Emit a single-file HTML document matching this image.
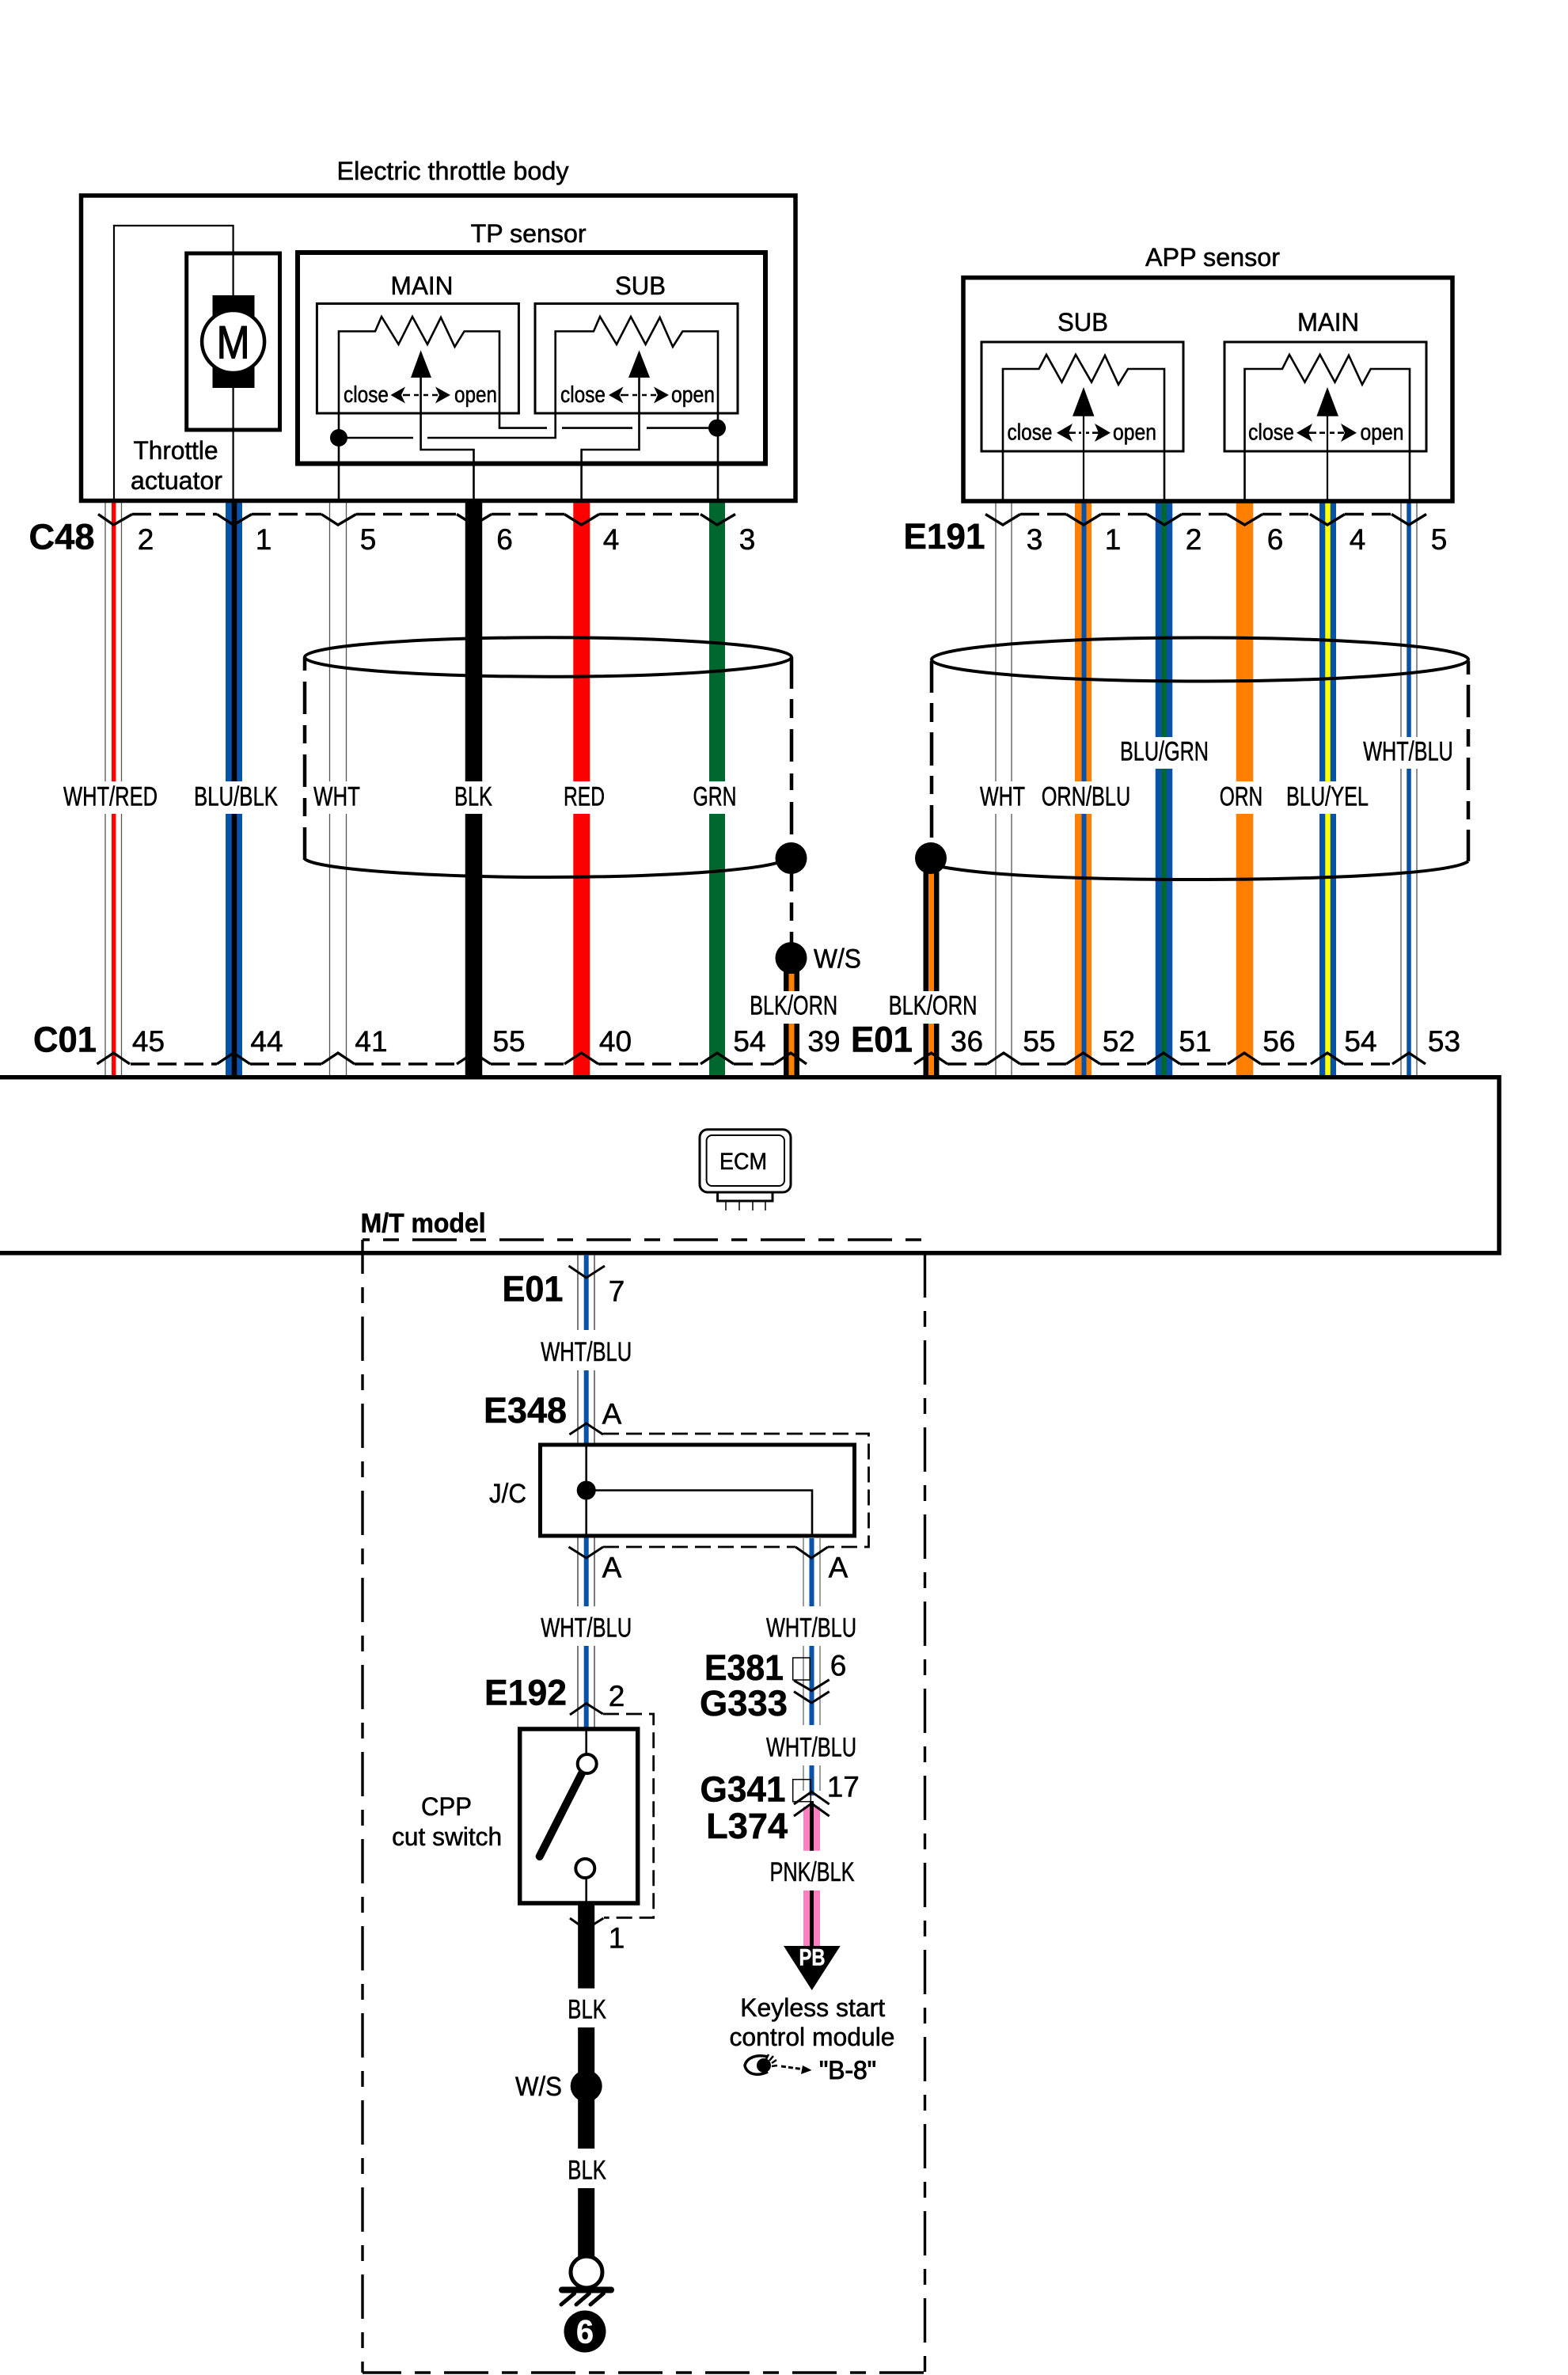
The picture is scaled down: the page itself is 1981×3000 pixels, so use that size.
<!DOCTYPE html>
<html><head><meta charset="utf-8"><title>Wiring diagram</title>
<style>
html,body{margin:0;padding:0;background:#fff}
svg{display:block}
text{font-family:"Liberation Sans",sans-serif;text-anchor:middle;dominant-baseline:central;fill:#000;stroke:#000;stroke-width:.55px}
.b{font-weight:bold}
.n{font-size:37px}
.c{font-size:45px;font-weight:bold}
.w{font-size:34px}
.s{font-size:32px}
.t{font-size:29px}
path,line,rect,circle,ellipse,polygon{fill:none;stroke:#000}
.f{fill:#000;stroke:none}
</style></head><body>
<svg xmlns="http://www.w3.org/2000/svg" width="1981" height="3000" viewBox="0 0 1981 3000">
<rect x="0" y="0" width="1981" height="3000" style="fill:#fff;stroke:none"/>

<!-- sheath lines -->
<path stroke-width="1.3" style="stroke:#555" d="M133 632V987M133 1028V1358M153.5 632V987M153.5 1028V1358M416.5 632V987M416.5 1028V1358M437.5 632V987M437.5 1028V1358M1258 632V987M1258 1028V1358M1278 632V987M1278 1028V1358M1770 632V931M1770 971V1358M1790 632V931M1790 971V1358"/>
<!-- colored wires -->
<path style="stroke:#f00" stroke-width="5.5" d="M143.7 632V987M143.7 1028V1358"/>
<path style="stroke:#0852a8" stroke-width="21" d="M295.5 632V987M295.5 1028V1358"/>
<path style="stroke:#000" stroke-width="6.5" d="M296 632V987M296 1028V1358"/>
<path style="stroke:#000" stroke-width="21.5" d="M598.5 632V987M598.5 1028V1358"/>
<path style="stroke:#f00" stroke-width="21" d="M734.8 632V987M734.8 1028V1358"/>
<path style="stroke:#00672e" stroke-width="20" d="M906 632V987M906 1028V1358"/>
<path style="stroke:#000" stroke-width="20" d="M1000 1210V1252M1000 1293V1358M1176.5 1084V1252M1176.5 1293V1358"/>
<path style="stroke:#ff7f00" stroke-width="7" d="M1000 1230V1252M1000 1293V1358M1176.5 1100V1252M1176.5 1293V1358"/>
<path style="stroke:#ff7f00" stroke-width="21" d="M1368.5 632V987M1368.5 1028V1358"/>
<path style="stroke:#0852a8" stroke-width="6" d="M1369.5 632V987M1369.5 1028V1358"/>
<path style="stroke:#0852a8" stroke-width="21.5" d="M1470.5 632V931M1470.5 971V1358"/>
<path style="stroke:#00672e" stroke-width="6.5" d="M1470.5 632V931M1470.5 971V1358"/>
<path style="stroke:#ff7f00" stroke-width="21.5" d="M1572.5 632V987M1572.5 1028V1358"/>
<path style="stroke:#0852a8" stroke-width="21" d="M1677.5 632V987M1677.5 1028V1358"/>
<path style="stroke:#ff0" stroke-width="6.5" d="M1677.5 632V987M1677.5 1028V1358"/>
<path style="stroke:#0852a8" stroke-width="5.5" d="M1780 632V931M1780 971V1358"/>

<!-- shields -->
<ellipse cx="692.5" cy="830" rx="307.5" ry="24.7" stroke-width="4"/>
<path stroke-width="4" d="M385 1085C400 1098 540 1108 692 1108C830 1108 950 1100 985 1089"/>
<path stroke-width="4.5" d="M385 830V847M385 861V902M385 916V939M385 953V994M385 1008V1031M385 1045V1086"/>
<path stroke-width="4.5" d="M1000 830V870M1000 883V907M1000 921V962M1000 977V998M1000 1013V1054M1000 1084V1126M1000 1140V1163M1000 1177V1210"/>
<ellipse cx="1516" cy="833" rx="339" ry="27.5" stroke-width="4"/>
<path stroke-width="4" d="M1190 1095C1260 1108 1400 1111 1516 1111C1650 1111 1830 1105 1855 1088"/>
<path stroke-width="4.5" d="M1177 835V875M1177 888V912M1177 925V967M1177 980V1003M1177 1017V1058"/>
<path stroke-width="4.5" d="M1855 835V852M1855 865V906M1855 921V943M1855 957V998M1855 1012V1035M1855 1048V1088"/>
<circle class="f" cx="999.5" cy="1084" r="20"/>
<circle class="f" cx="999.5" cy="1210" r="20"/>
<circle class="f" cx="1176" cy="1084" r="20"/>

<!-- Electric throttle body -->
<text class="s" x="572" y="216" textLength="293" lengthAdjust="spacingAndGlyphs">Electric throttle body</text>
<rect x="102.5" y="247" width="902.5" height="385.5" stroke-width="5.5"/>
<path stroke-width="2.2" d="M144 632V285H294.6V632"/>
<rect x="235.7" y="320" width="117.8" height="223" stroke-width="5"/>
<rect class="f" x="268.5" y="373" width="53" height="117"/>
<circle cx="294.6" cy="431.5" r="39.5" stroke-width="4.5" style="fill:#fff"/>
<text x="294.6" y="433" font-size="58" textLength="42" lengthAdjust="spacingAndGlyphs" style="stroke-width:1.2px">M</text>
<text class="s" x="222" y="569" textLength="107" lengthAdjust="spacingAndGlyphs">Throttle</text>
<text class="s" x="223" y="607" textLength="116" lengthAdjust="spacingAndGlyphs">actuator</text>
<text class="s" x="667.6" y="295" textLength="146" lengthAdjust="spacingAndGlyphs">TP sensor</text>
<rect x="376" y="319" width="591" height="266.6" stroke-width="6"/>
<rect x="400.4" y="383.5" width="255" height="138.5" stroke-width="3"/>
<rect x="676" y="383.5" width="256" height="138.5" stroke-width="3"/>
<text class="s" x="533" y="361" textLength="79" lengthAdjust="spacingAndGlyphs">MAIN</text>
<text class="s" x="809" y="361" textLength="64" lengthAdjust="spacingAndGlyphs">SUB</text>
<path stroke-width="2.6" d="M428 632V418.5H474L482 400L503.5 435L521 400L540 435L557 401L574.5 438L586.6 418.5H631V540.6H691M710 540.6H799M817 540.6H906"/>
<path stroke-width="2.6" d="M428 553H522M540 553H701.7V418.5H750L758 400L779 435L797 400L815.6 435L833.6 401L850 438L862.4 418.5H907V632"/>
<path stroke-width="2.6" d="M531.6 470V568H598.5V632M807.5 470V568H734.6V632"/>
<circle class="f" cx="428" cy="553" r="11"/>
<circle class="f" cx="906" cy="540.6" r="11"/>
<polygon class="f" points="531.6,442.4 545,477 519,477"/>
<polygon class="f" points="807.5,442.4 821,477 794,477"/>
<text class="t" x="462.5" y="499" textLength="57" lengthAdjust="spacingAndGlyphs">close</text>
<text class="t" x="601" y="499" textLength="54" lengthAdjust="spacingAndGlyphs">open</text>
<text class="t" x="736.5" y="499" textLength="57" lengthAdjust="spacingAndGlyphs">close</text>
<text class="t" x="875.5" y="499" textLength="55" lengthAdjust="spacingAndGlyphs">open</text>
<polygon class="f" points="493.5,499 512,488.5 507,499 512,509.5"/>
<polygon class="f" points="569,499 550,488.5 555,499 550,509.5"/>
<polygon class="f" points="769,499 787.5,488.5 782.5,499 787.5,509.5"/>
<polygon class="f" points="845,499 826,488.5 831,499 826,509.5"/>
<path stroke-width="2.6" d="M509 499H518M523 499H529M535 499H541M546 499H553M784 499H794M799 499H805M811 499H817M822 499H829"/>

<!-- APP sensor -->
<text class="s" x="1532" y="325" textLength="170" lengthAdjust="spacingAndGlyphs">APP sensor</text>
<rect x="1217" y="350.7" width="618" height="282.3" stroke-width="5.5"/>
<rect x="1240" y="432" width="255" height="138" stroke-width="3"/>
<rect x="1547" y="432" width="255" height="138" stroke-width="3"/>
<text class="s" x="1368" y="407" textLength="64" lengthAdjust="spacingAndGlyphs">SUB</text>
<text class="s" x="1678" y="407" textLength="78" lengthAdjust="spacingAndGlyphs">MAIN</text>
<path stroke-width="2.6" d="M1267 632V466H1312.5L1322 448L1341.5 482.7L1359 448L1379 482.7L1396 449L1413 485.7L1425 466H1471V632"/>
<path stroke-width="2.6" d="M1572.5 632V466H1620L1629 448L1648.5 482.7L1667.6 448L1686.5 482.7L1704 449L1721 485.7L1731.7 466H1781V632"/>
<path stroke-width="2.2" d="M1369 520V632M1677 520V632"/>
<polygon class="f" points="1369,489 1382.5,525.7 1355,525.7"/>
<polygon class="f" points="1677,489 1691,525.7 1663.4,525.7"/>
<text class="t" x="1301" y="546.7" textLength="57" lengthAdjust="spacingAndGlyphs">close</text>
<text class="t" x="1433.5" y="546.7" textLength="55" lengthAdjust="spacingAndGlyphs">open</text>
<text class="t" x="1606" y="546.7" textLength="58" lengthAdjust="spacingAndGlyphs">close</text>
<text class="t" x="1746" y="546.7" textLength="55" lengthAdjust="spacingAndGlyphs">open</text>
<polygon class="f" points="1335,546.7 1355,535 1350,546.7 1355,558"/>
<polygon class="f" points="1403,546.7 1383,535 1388,546.7 1383,558"/>
<polygon class="f" points="1638,546.7 1658,535 1653,546.7 1658,558"/>
<polygon class="f" points="1714,546.7 1694,535 1699,546.7 1694,558"/>
<path stroke-width="2.6" d="M1350 546.7H1359M1363 546.7H1366M1372 546.7H1376M1380 546.7H1388M1653 546.7H1663M1667 546.7H1674M1680 546.7H1686M1690 546.7H1698"/>

<!-- C48 / E191 connectors -->
<g stroke-width="3.4">
<path d="M124 649.5L143.5 663L167 649.5M274 649.5L295 663L318 649.5M406 649.5L427 663L450 649.5M577 649.5L598.5 663L621 649.5M713 649.5L734.6 663L757 649.5M885 649.5L906 663L929 649.5"/>
<path d="M1245 649.5L1267 663L1289 649.5M1347 649.5L1369 663L1391 649.5M1449 649.5L1471 663L1493 649.5M1550 649.5L1572.5 663L1595 649.5M1655 649.5L1677 663L1699 649.5M1758 649.5L1780 663L1802 649.5"/>
<path stroke-dasharray="24 10" d="M167 649.5H274M318 649.5H406M450 649.5H577M621 649.5H713M757 649.5H885M1289 649.5H1347M1391 649.5H1449M1493 649.5H1550M1595 649.5H1655M1699 649.5H1758"/>
<path d="M122.5 1344L143.5 1330L164 1344M274 1344L295 1330L316 1344M406 1344L427 1330L448 1344M577 1344L598.5 1330L620 1344M713 1344L734.6 1330L756 1344M885 1344L906 1330L927 1344M978 1344L999 1330L1019 1344M1155 1344L1176.5 1330L1197 1344M1247 1344L1268 1330L1289 1344M1347 1344L1368.5 1330L1390 1344M1449 1344L1470 1330L1491 1344M1551 1344L1572 1330L1593 1344M1656 1344L1677 1330L1698 1344M1759 1344L1780 1330L1801 1344"/>
<path stroke-dasharray="24 10" d="M165 1344H274M316 1344H406M448 1344H577M620 1344H713M756 1344H885M927 1344H978M1197 1344H1247M1289 1344H1347M1390 1344H1449M1491 1344H1551M1593 1344H1656M1698 1344H1759"/>
</g>
<text class="c" x="78" y="678" textLength="83" lengthAdjust="spacingAndGlyphs">C48</text>
<text class="n" x="184" y="681.6">2</text><text class="n" x="333" y="681.6">1</text><text class="n" x="465" y="681.6">5</text><text class="n" x="637.5" y="681.6">6</text><text class="n" x="772" y="681.6">4</text><text class="n" x="944" y="681.6">3</text>
<text class="c" x="1193" y="677.7" textLength="103" lengthAdjust="spacingAndGlyphs">E191</text>
<text class="n" x="1307" y="681.6">3</text><text class="n" x="1406" y="681.6">1</text><text class="n" x="1508" y="681.6">2</text><text class="n" x="1611" y="681.6">6</text><text class="n" x="1715" y="681.6">4</text><text class="n" x="1818" y="681.6">5</text>

<!-- wire labels -->
<g>
<text class="w" x="139.5" y="1006.7" textLength="119" lengthAdjust="spacingAndGlyphs">WHT/RED</text>
<text class="w" x="298" y="1006.7" textLength="106" lengthAdjust="spacingAndGlyphs">BLU/BLK</text>
<text class="w" x="425.5" y="1006.7" textLength="58.7" lengthAdjust="spacingAndGlyphs">WHT</text>
<text class="w" x="598" y="1006.7" textLength="48" lengthAdjust="spacingAndGlyphs">BLK</text>
<text class="w" x="738" y="1006.7" textLength="52" lengthAdjust="spacingAndGlyphs">RED</text>
<text class="w" x="903" y="1006.7" textLength="55" lengthAdjust="spacingAndGlyphs">GRN</text>
<text class="w" x="1266.5" y="1006.7" textLength="57" lengthAdjust="spacingAndGlyphs">WHT</text>
<text class="w" x="1372" y="1006.7" textLength="112.5" lengthAdjust="spacingAndGlyphs">ORN/BLU</text>
<text class="w" x="1471" y="949.3" textLength="112" lengthAdjust="spacingAndGlyphs">BLU/GRN</text>
<text class="w" x="1568" y="1006.7" textLength="54.5" lengthAdjust="spacingAndGlyphs">ORN</text>
<text class="w" x="1677" y="1006.7" textLength="104" lengthAdjust="spacingAndGlyphs">BLU/YEL</text>
<text class="w" x="1779" y="949.3" textLength="113.6" lengthAdjust="spacingAndGlyphs">WHT/BLU</text>
<text class="w" x="1058" y="1211.7" textLength="60" lengthAdjust="spacingAndGlyphs">W/S</text>
<text class="w" x="1002.6" y="1270.7" textLength="111" lengthAdjust="spacingAndGlyphs">BLK/ORN</text>
<text class="w" x="1178.6" y="1270.7" textLength="112" lengthAdjust="spacingAndGlyphs">BLK/ORN</text>
</g>

<!-- C01 labels -->
<text class="c" x="82" y="1313" textLength="80" lengthAdjust="spacingAndGlyphs">C01</text>
<text class="n" x="187.5" y="1315.7">45</text><text class="n" x="337" y="1315.7">44</text><text class="n" x="469" y="1315.7">41</text><text class="n" x="643" y="1315.7">55</text><text class="n" x="777.5" y="1315.7">40</text><text class="n" x="947" y="1315.7">54</text><text class="n" x="1041" y="1315.7">39</text>
<text class="c" x="1114" y="1313" textLength="78" lengthAdjust="spacingAndGlyphs">E01</text>
<text class="n" x="1221.5" y="1315.7">36</text><text class="n" x="1313" y="1315.7">55</text><text class="n" x="1413.5" y="1315.7">52</text><text class="n" x="1510" y="1315.7">51</text><text class="n" x="1616" y="1315.7">56</text><text class="n" x="1719" y="1315.7">54</text><text class="n" x="1824.5" y="1315.7">53</text>

<!-- ECM -->
<path stroke-width="5.5" d="M-10 1360.7H1894V1582.7H-10"/>
<rect x="884" y="1426.7" width="115" height="79.3" rx="10" stroke-width="3"/>
<rect x="892.6" y="1434" width="98.4" height="64" rx="7" stroke-width="2"/>
<text x="939" y="1467.7" font-size="30" textLength="60" lengthAdjust="spacingAndGlyphs">ECM</text>
<path stroke-width="3" d="M906.6 1506V1517H976V1506"/>
<path stroke-width="1.5" d="M917 1517V1529M934 1517V1529M951 1517V1529M967 1517V1529"/>

<!-- M/T model box -->
<text class="b w" x="534.6" y="1545.7" textLength="158" lengthAdjust="spacingAndGlyphs">M/T model</text>
<path stroke-width="3.4" stroke-dasharray="56 17 20 17" stroke-dashoffset="47" d="M458 1566H1168"/>
<path stroke-width="3.4" stroke-dasharray="56 17 20 17" stroke-dashoffset="13" d="M458 1566V2997"/>
<path stroke-width="3.4" stroke-dasharray="56 17 20 17" stroke-dashoffset="0" d="M1168.5 1583V2997"/>
<path stroke-width="3.4" stroke-dasharray="56 17 20 17" stroke-dashoffset="7" d="M458 2997H1168.5"/>

<!-- lower left wire -->
<path stroke-width="1.3" style="stroke:#333" d="M730 1585V1680M730 1731V1825M751 1585V1680M751 1731V1825M730 1940V2029M730 2079V2184M751 1940V2029M751 2079V2184"/>
<path style="stroke:#0852a8" stroke-width="6" d="M740.7 1585V1680M740.7 1731V1825M740.7 1940V2029M740.7 2079V2184"/>
<path stroke-width="3" d="M718.5 1599L740.7 1614L764 1599M719.4 1812L740.7 1798L762 1812M718.5 1954L740.7 1968L762 1954"/>
<text class="c" x="673" y="1628" textLength="77" lengthAdjust="spacingAndGlyphs">E01</text>
<text class="n" x="779" y="1631">7</text>
<text class="w" x="740.7" y="1708" textLength="115" lengthAdjust="spacingAndGlyphs">WHT/BLU</text>
<text class="c" x="663.5" y="1781.7" textLength="105" lengthAdjust="spacingAndGlyphs">E348</text>
<text class="n" x="773" y="1786">A</text>
<path stroke-width="2.8" stroke-dasharray="20 9" d="M762 1811H1097.5V1954H1046"/>
<path stroke-width="2.8" stroke-dasharray="20 9" d="M762 1954H1005"/>
<rect x="682.5" y="1825" width="397" height="115" stroke-width="5"/>
<path stroke-width="2.6" d="M740.7 1825V1940M740.7 1882.5H1026V1940"/>
<circle class="f" cx="740.7" cy="1882.5" r="12"/>
<text class="w" x="641.5" y="1887" textLength="47" lengthAdjust="spacingAndGlyphs">J/C</text>
<text class="n" x="773" y="1980">A</text>
<text class="n" x="1059" y="1980">A</text>
<text class="w" x="740.7" y="2056.4" textLength="115" lengthAdjust="spacingAndGlyphs">WHT/BLU</text>

<!-- right branch -->
<path stroke-width="1.3" style="stroke:#666" d="M1015 1943V2029M1015 2079V2179M1036 1943V2029M1036 2079V2179M1015 2230V2262M1036 2230V2262"/>
<path style="stroke:#0852a8" stroke-width="6" d="M1025.5 1943V2029M1025.5 2079V2179M1025.5 2230V2268"/>
<path stroke-width="3" d="M1005 1954L1025 1968L1046 1954"/>
<text class="w" x="1025" y="2056.4" textLength="114" lengthAdjust="spacingAndGlyphs">WHT/BLU</text>
<rect x="1001.7" y="2094" width="21.5" height="28" stroke-width="1.5"/>
<path stroke-width="3" d="M1003 2122.7L1025.3 2135.7L1047.7 2121.7M1003 2136.7L1025.3 2151L1047.7 2136.7"/>
<text class="c" x="940" y="2106.7" textLength="100" lengthAdjust="spacingAndGlyphs">E381</text>
<text class="c" x="939.5" y="2151.7" textLength="111" lengthAdjust="spacingAndGlyphs">G333</text>
<text class="n" x="1059" y="2104">6</text>
<text class="w" x="1025" y="2207.3" textLength="114" lengthAdjust="spacingAndGlyphs">WHT/BLU</text>
<rect x="1001.7" y="2247.7" width="22.6" height="28" stroke-width="1.5"/>
<path style="stroke:#ff80c0" stroke-width="21" d="M1025.5 2282V2337.7M1025.5 2388V2459"/>
<path stroke-width="5" d="M1025.5 2275V2337.7M1025.5 2388V2459"/>
<path stroke-width="3" d="M1003 2279L1025.3 2263.3L1047.7 2279M1003 2294L1025.3 2278L1047.7 2294"/>
<text class="c" x="938.5" y="2260" textLength="108" lengthAdjust="spacingAndGlyphs">G341</text>
<text class="c" x="943.7" y="2306.7" textLength="103" lengthAdjust="spacingAndGlyphs">L374</text>
<text class="n" x="1065.3" y="2257">17</text>
<text class="w" x="1026" y="2365" textLength="107" lengthAdjust="spacingAndGlyphs">PNK/BLK</text>
<polygon class="f" points="990,2458 1061.7,2458 1025.7,2514"/>
<text x="1026" y="2473" font-size="30" font-weight="bold" style="fill:#fff;stroke:#fff" textLength="33" lengthAdjust="spacingAndGlyphs">PB</text>
<text class="s" x="1026.7" y="2536" textLength="183" lengthAdjust="spacingAndGlyphs">Keyless start</text>
<text class="s" x="1026" y="2573" textLength="209" lengthAdjust="spacingAndGlyphs">control module</text>
<text class="s" x="1071" y="2615" textLength="72" lengthAdjust="spacingAndGlyphs" style="stroke-width:1px">"B-8"</text>
<path stroke-width="3.5" d="M970 2598C955 2594 943 2600 941 2609C943 2619 955 2624 970 2617"/>
<circle class="f" cx="965" cy="2609" r="9"/>
<path stroke-width="2.5" d="M968 2601L971 2595M972 2603L977 2597M975 2606L981 2602M975 2610L982 2609"/>
<path stroke-width="3" stroke-dasharray="6 3" d="M987 2610L1016 2614"/>
<polygon class="f" points="1025.5,2615 1012,2620 1014,2609"/>

<!-- E192 switch -->
<text class="c" x="664" y="2138" textLength="104" lengthAdjust="spacingAndGlyphs">E192</text>
<text class="n" x="779" y="2142.7">2</text>
<path stroke-width="3" d="M720 2166L740.7 2151.7L761.7 2165"/>
<path stroke-width="2.8" stroke-dasharray="20 9" d="M762 2165H825.7V2422.3H763"/>
<rect x="656.7" y="2184" width="149" height="220" stroke-width="5.5"/>
<path stroke-width="2.6" d="M740.7 2184V2216M740.7 2372V2404"/>
<path stroke-width="10" stroke-linecap="round" d="M735 2240L681.7 2345"/>
<circle cx="741.7" cy="2228" r="12" stroke-width="4" style="fill:#fff"/>
<circle cx="739.3" cy="2360" r="12" stroke-width="4" style="fill:#fff"/>
<text class="s" x="564" y="2282" textLength="64" lengthAdjust="spacingAndGlyphs">CPP</text>
<text class="s" x="564.6" y="2320" textLength="139" lengthAdjust="spacingAndGlyphs">cut switch</text>
<path stroke-width="21" d="M740.7 2404V2511.6M740.7 2561V2714M740.7 2764V2855"/>
<path stroke-width="3" d="M720 2423L740 2437L762.4 2423"/>
<text class="n" x="779" y="2448">1</text>
<text class="w" x="741.6" y="2538.5" textLength="48.6" lengthAdjust="spacingAndGlyphs">BLK</text>
<circle class="f" cx="740.7" cy="2635" r="20"/>
<text class="w" x="680.5" y="2636" textLength="59" lengthAdjust="spacingAndGlyphs">W/S</text>
<text class="w" x="741.6" y="2741.4" textLength="48.6" lengthAdjust="spacingAndGlyphs">BLK</text>
<circle cx="741" cy="2870" r="20" stroke-width="5" style="fill:#fff"/>
<path stroke-width="8" stroke-linecap="round" d="M710 2892.5H772"/>
<path stroke-width="5" stroke-linecap="round" d="M709 2911L725.6 2897M728 2911L744.4 2897M746 2911L762.4 2897"/>
<circle class="f" cx="739" cy="2945" r="26.5"/>
<text x="739" y="2945" font-size="42" font-weight="bold" style="fill:#fff;stroke:#fff" textLength="22" lengthAdjust="spacingAndGlyphs">6</text>
</svg>
</body></html>
